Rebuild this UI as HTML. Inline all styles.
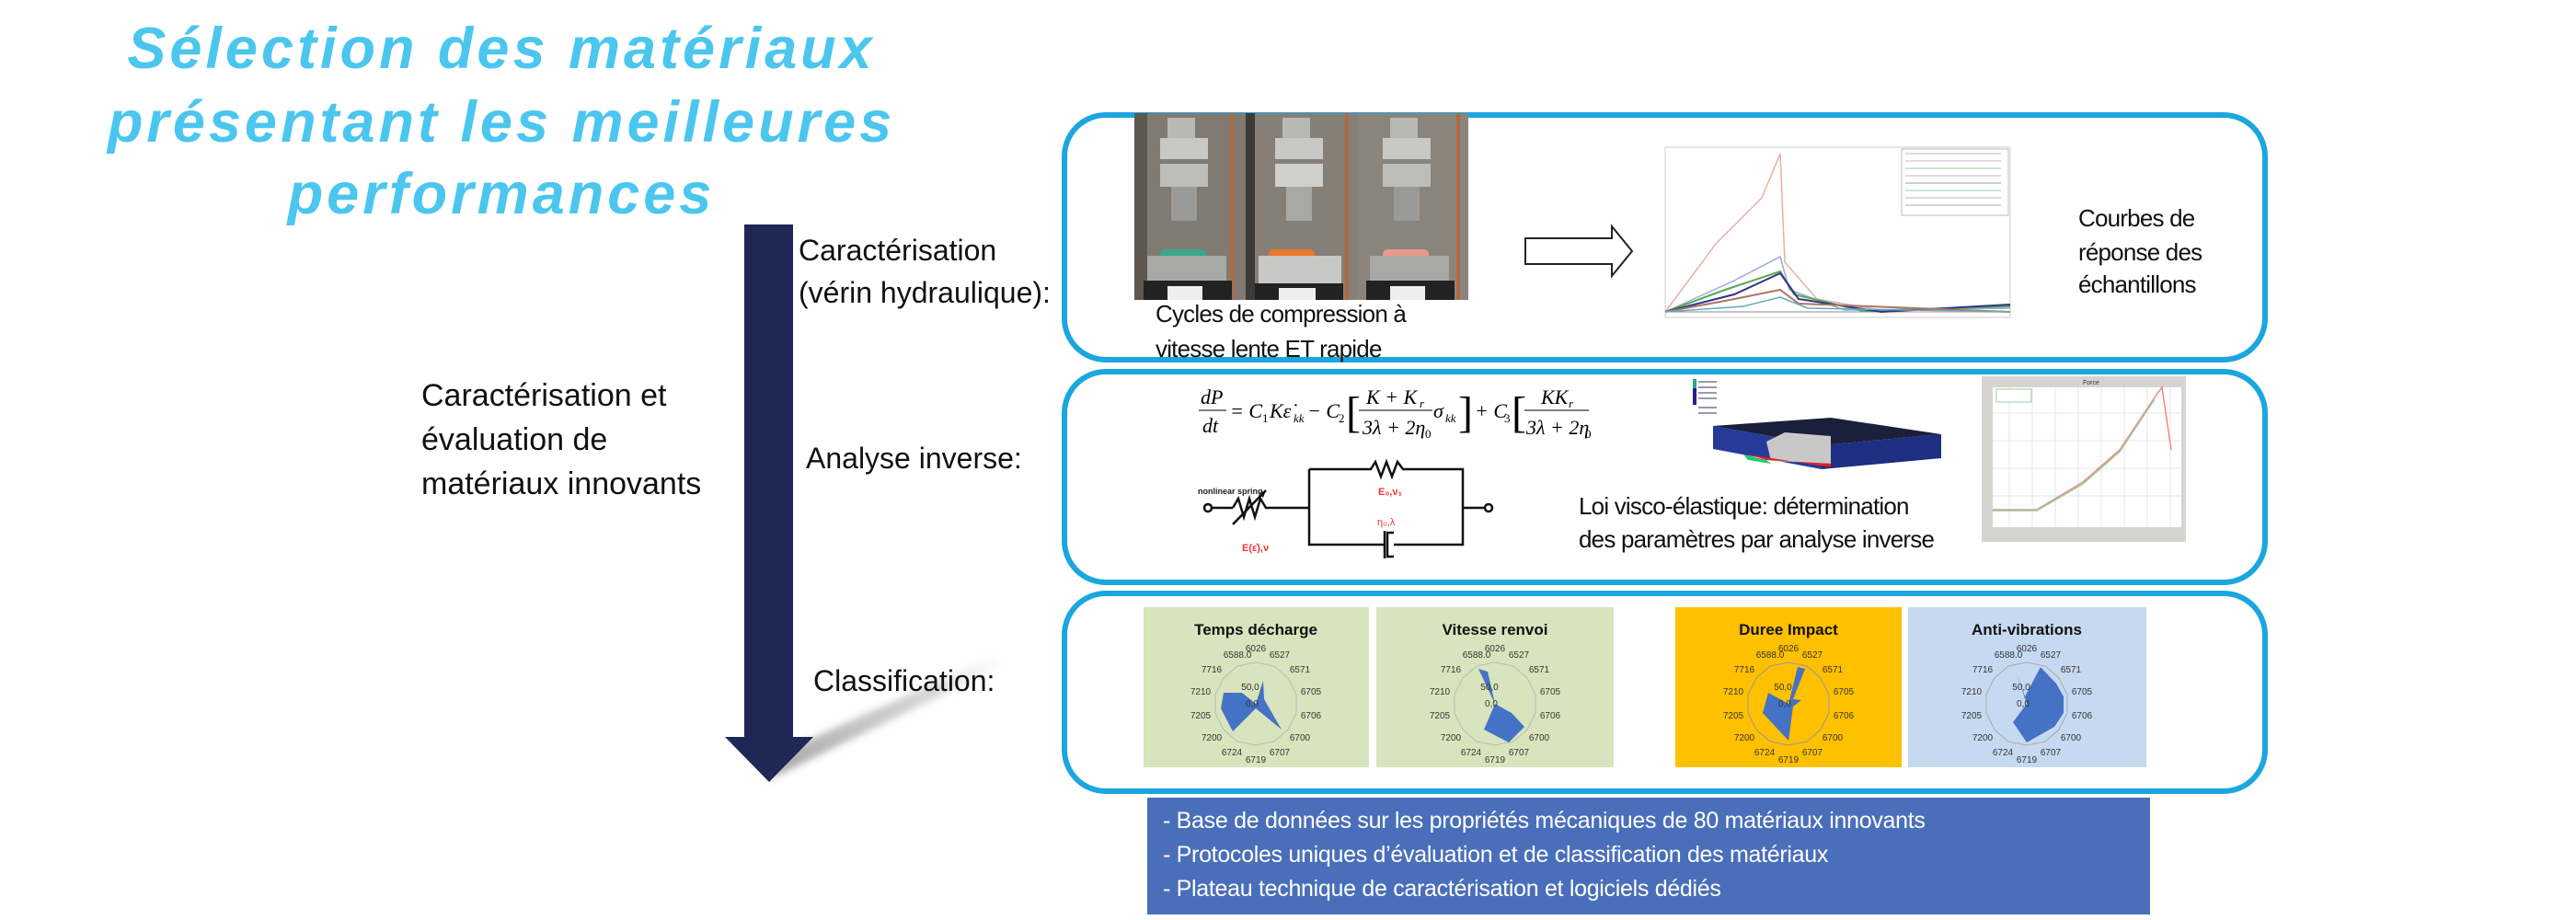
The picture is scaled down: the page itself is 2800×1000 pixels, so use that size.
<!DOCTYPE html>
<html><head><meta charset="utf-8">
<style>
html,body{margin:0;padding:0;background:#fff;}
body{width:2800px;height:1000px;position:relative;overflow:hidden;font-family:"Liberation Sans",sans-serif;}
.t{position:absolute;white-space:nowrap;color:#111;}
.title{position:absolute;left:0;width:1090px;text-align:center;color:#4BC6EE;font-weight:bold;font-style:italic;font-size:63px;letter-spacing:4px;white-space:nowrap;}
.panel{position:absolute;border:6px solid #1BA6E0;border-radius:48px;box-sizing:border-box;}
.lbl{font-size:32px;}
.cap{font-size:26px;letter-spacing:-0.8px;}
</style></head><body>

<div class="title" style="top:17px;">Sélection des matériaux</div>
<div class="title" style="top:97px;">présentant les meilleures</div>
<div class="title" style="top:175px;">performances</div>

<svg style="position:absolute;left:0;top:0" width="1160" height="900">
  <defs>
    <linearGradient id="sh" x1="0" y1="1" x2="1" y2="0"><stop offset="0" stop-color="#999" stop-opacity="0.9"/><stop offset="0.7" stop-color="#bbb" stop-opacity="0.6"/><stop offset="1" stop-color="#ddd" stop-opacity="0"/></linearGradient>
    <filter id="bl" x="-20%" y="-20%" width="140%" height="140%"><feGaussianBlur stdDeviation="4"/></filter>
  </defs>
  <polygon points="835,848 862,812 1082,712 1092,722" fill="url(#sh)" filter="url(#bl)"/>
  <rect x="809" y="244" width="53" height="560" fill="#1F2757"/>
  <polygon points="788,801 884,801 836,850" fill="#1F2757"/>
</svg>

<div class="t lbl" style="left:868px;top:254px;">Caractérisation</div>
<div class="t lbl" style="left:868px;top:300px;">(vérin hydraulique):</div>
<div class="t" style="left:458px;top:411px;font-size:34px;">Caractérisation et</div>
<div class="t" style="left:458px;top:459px;font-size:34px;">évaluation de</div>
<div class="t" style="left:458px;top:507px;font-size:34px;">matériaux innovants</div>
<div class="t lbl" style="left:876px;top:480px;">Analyse inverse:</div>
<div class="t lbl" style="left:884px;top:722px;">Classification:</div>

<div class="panel" style="left:1154px;top:122px;width:1311px;height:272px;"></div>
<div class="panel" style="left:1154px;top:401px;width:1311px;height:235px;"></div>
<div class="panel" style="left:1154px;top:642px;width:1311px;height:221px;"></div>

<!-- photo -->
<svg style="position:absolute;left:1233px;top:123px" width="363" height="203">
  <g>
    <rect width="121" height="203" fill="#807a72"/>
    <rect x="0" width="14" height="203" fill="#5e5850"/>
    <rect x="104" width="4" height="203" fill="#b06a40"/>
    <rect x="28" y="27" width="52" height="23" fill="#c8c8c6"/><rect x="36" y="5" width="30" height="22" fill="#b8b8b4"/>
    <rect x="28" y="55" width="52" height="25" fill="#bdbdbb"/>
    <rect x="40" y="80" width="28" height="37" fill="#9a9a98"/>
    <rect x="28" y="148" width="50" height="12" rx="5" fill="#3aa888"/>
    <rect x="14" y="155" width="86" height="27" fill="#a8a8a6"/>
    <rect x="10" y="182" width="96" height="21" fill="#222"/><rect x="36" y="188" width="38" height="15" fill="#eee"/>
  </g>
  <g transform="translate(121,0)">
    <rect width="121" height="203" fill="#857f77"/>
    <rect x="0" width="10" height="203" fill="#3e3a36"/>
    <rect x="108" width="4" height="203" fill="#b06a40"/>
    <rect x="32" y="27" width="52" height="23" fill="#c8c8c6"/><rect x="40" y="5" width="30" height="22" fill="#b8b8b4"/>
    <rect x="32" y="55" width="52" height="25" fill="#cfcfcd"/>
    <rect x="44" y="80" width="28" height="37" fill="#a8a8a6"/>
    <rect x="25" y="148" width="50" height="12" rx="5" fill="#e8772a"/>
    <rect x="14" y="155" width="90" height="30" fill="#c8c8c6"/>
    <rect x="10" y="185" width="96" height="18" fill="#222"/><rect x="36" y="190" width="40" height="13" fill="#eee"/>
  </g>
  <g transform="translate(242,0)">
    <rect width="121" height="203" fill="#8a847c"/>
    <rect x="108" width="4" height="203" fill="#b06a40"/>
    <rect x="28" y="27" width="52" height="23" fill="#c8c8c6"/><rect x="36" y="5" width="30" height="22" fill="#b8b8b4"/>
    <rect x="28" y="55" width="52" height="25" fill="#bdbdbb"/>
    <rect x="40" y="80" width="28" height="37" fill="#9a9a98"/>
    <rect x="28" y="148" width="50" height="12" rx="5" fill="#e89a8c"/>
    <rect x="14" y="155" width="86" height="27" fill="#a8a8a6"/>
    <rect x="10" y="182" width="96" height="21" fill="#222"/><rect x="36" y="188" width="38" height="15" fill="#eee"/>
  </g>
</svg>
<div class="t cap" style="left:1256px;top:326px;">Cycles de compression à</div>
<div class="t cap" style="left:1256px;top:364px;">vitesse lente ET rapide</div>

<!-- hollow arrow -->
<svg style="position:absolute;left:1655px;top:242px" width="125" height="62">
  <polygon points="3,17 97,17 97,4 119,31 97,58 97,45 3,45" fill="#fff" stroke="#222" stroke-width="2"/>
</svg>

<!-- response chart -->
<svg style="position:absolute;left:1805px;top:155px" width="385" height="195">
  <rect x="5" y="5" width="375" height="185" fill="#fff" stroke="#ccc"/>
  <line x1="5" y1="184" x2="380" y2="184" stroke="#888"/>
  <rect x="262" y="7" width="116" height="72" fill="#fff" stroke="#bbb"/>
  <g stroke-width="1">
    <line x1="266" y1="12" x2="370" y2="12" stroke="#bbb"/><line x1="266" y1="20" x2="370" y2="20" stroke="#bbb"/>
    <line x1="266" y1="28" x2="370" y2="28" stroke="#9c9"/><line x1="266" y1="36" x2="370" y2="36" stroke="#bbb"/>
    <line x1="266" y1="44" x2="370" y2="44" stroke="#999"/><line x1="266" y1="52" x2="370" y2="52" stroke="#9c9"/>
    <line x1="266" y1="60" x2="370" y2="60" stroke="#bbb"/><line x1="266" y1="68" x2="370" y2="68" stroke="#aac"/>
  </g>
  <polyline points="5,184 60,110 110,60 130,12 135,130 170,170 250,184 380,184" fill="none" stroke="#e8b0a8" stroke-width="1.5"/>
  <polyline points="5,184 80,150 130,124 140,160 200,182 380,180" fill="none" stroke="#9ad" stroke-width="1.5"/>
  <polyline points="5,184 70,160 130,140 145,165 220,183 380,178" fill="none" stroke="#5a5" stroke-width="2"/>
  <polyline points="5,184 80,165 130,142 150,170 240,184 380,176" fill="none" stroke="#338" stroke-width="2"/>
  <polyline points="5,184 70,172 130,160 150,175 380,184" fill="none" stroke="#a76" stroke-width="2"/>
  <polyline points="5,184 90,178 130,168 160,180 380,184" fill="none" stroke="#6ab" stroke-width="1.5"/>
</svg>
<div class="t cap" style="left:2259px;top:222px;">Courbes de</div>
<div class="t cap" style="left:2259px;top:259px;">réponse des</div>
<div class="t cap" style="left:2259px;top:294px;">échantillons</div>

<!-- equation -->
<svg style="position:absolute;left:1295px;top:412px" width="440" height="72" font-family="Liberation Serif, serif" font-style="italic" font-size="22">
  <text x="10" y="27">dP</text><line x1="8" y1="34" x2="38" y2="34" stroke="#000"/><text x="12" y="58">dt</text>
  <text x="42" y="42">= C</text><text x="77" y="47" font-size="13" font-style="normal">1</text><text x="85" y="42">Kε̇</text><text x="111" y="47" font-size="13">kk</text>
  <text x="126" y="42">− C</text><text x="160" y="47" font-size="13" font-style="normal">2</text>
  <text x="168" y="52" font-size="48" font-style="normal" font-weight="100">[</text>
  <text x="190" y="27">K + K</text><text x="248" y="31" font-size="13">r</text>
  <line x1="182" y1="34" x2="262" y2="34" stroke="#000"/><text x="186" y="60">3λ + 2η</text><text x="254" y="64" font-size="13" font-style="normal">0</text>
  <text x="263" y="42">σ</text><text x="276" y="47" font-size="13">kk</text>
  <text x="290" y="52" font-size="48" font-style="normal">]</text>
  <text x="308" y="42">+ C</text><text x="340" y="47" font-size="13" font-style="normal">3</text>
  <text x="348" y="52" font-size="48" font-style="normal">[</text>
  <text x="380" y="27">KK</text><text x="410" y="31" font-size="13">r</text>
  <line x1="362" y1="34" x2="432" y2="34" stroke="#000"/><text x="364" y="60">3λ + 2η</text><text x="428" y="64" font-size="13" font-style="normal">0</text>
</svg>

<!-- circuit -->
<svg style="position:absolute;left:1300px;top:495px" width="330" height="120" font-family="Liberation Sans, sans-serif">
  <g fill="none" stroke="#111" stroke-width="2.5">
    <circle cx="13" cy="57" r="4"/><line x1="17" y1="57" x2="40" y2="57"/>
    <polyline points="40,57 46,47 52,67 58,47 64,67 70,47 76,57 123,57"/>
    <line x1="40" y1="75" x2="76" y2="38"/>
    <polyline points="123,15 123,97 205,97"/>
    <polyline points="123,15 190,15 195,7 201,23 207,7 213,23 219,7 225,15 290,15 290,97 215,97"/>
    <line x1="290" y1="57" x2="314" y2="57"/><circle cx="318" cy="57" r="4"/>
    <line x1="205" y1="82" x2="205" y2="112"/><polyline points="215,84 208,84 208,110 215,110"/>
  </g>
  <polygon points="76,38 68,41 73,46" fill="#111"/>
  <text x="2" y="42" font-size="9" font-weight="bold" fill="#222">nonlinear spring</text>
  <text x="198" y="43" font-size="11" font-weight="bold" fill="#e33">E₀,ν₁</text>
  <text x="197" y="76" font-size="11" fill="#e33">η₀,λ</text>
  <text x="50" y="104" font-size="11" font-weight="bold" fill="#e33">E(ε̇),ν</text>
</svg>

<!-- FEM image -->
<svg style="position:absolute;left:1840px;top:408px" width="275" height="112">
  <rect x="0" y="4" width="4" height="28" fill="#2a8"/><rect x="0" y="14" width="4" height="18" fill="#228"/>
  <g fill="#99a"><rect x="6" y="6" width="20" height="2"/><rect x="6" y="12" width="20" height="2"/><rect x="6" y="18" width="20" height="2"/><rect x="6" y="24" width="20" height="2"/><rect x="6" y="34" width="20" height="2"/><rect x="6" y="40" width="20" height="2"/></g>
  <polygon points="22,55 150,46 270,64 140,76" fill="#1a1f3a"/>
  <polygon points="22,55 140,76 140,102 22,80" fill="#263a9a"/>
  <polygon points="140,76 270,64 270,90 140,102" fill="#1e2e80"/>
  <polygon points="80,72 100,62 150,66 150,96 85,93" fill="#c8c8c8"/>
  <polygon points="60,86 150,100 150,96 80,92" fill="#d22"/>
  <polygon points="55,86 80,92 85,96 60,92" fill="#2c6"/>
</svg>

<!-- graph -->
<svg style="position:absolute;left:2154px;top:409px" width="222" height="180">
  <rect width="222" height="180" fill="#d6d4d0"/>
  <rect x="12" y="12" width="205" height="152" fill="#fff"/>
  <g stroke="#e6e6e6"><line x1="30" y1="12" x2="30" y2="164"/><line x1="55" y1="12" x2="55" y2="164"/><line x1="80" y1="12" x2="80" y2="164"/><line x1="105" y1="12" x2="105" y2="164"/><line x1="130" y1="12" x2="130" y2="164"/><line x1="155" y1="12" x2="155" y2="164"/><line x1="180" y1="12" x2="180" y2="164"/><line x1="205" y1="12" x2="205" y2="164"/>
  <line x1="12" y1="40" x2="217" y2="40"/><line x1="12" y1="70" x2="217" y2="70"/><line x1="12" y1="100" x2="217" y2="100"/><line x1="12" y1="130" x2="217" y2="130"/></g>
  <rect x="16" y="14" width="38" height="14" fill="#fff" stroke="#9c9"/>
  <polyline points="12,145 60,145 110,115 150,80 190,20 196,12 206,80" fill="none" stroke="#e88" stroke-width="1.5"/>
  <polyline points="12,146 60,146 110,117 150,82 188,25" fill="none" stroke="#9c9" stroke-width="1.5"/>
  <text x="110" y="9" font-size="7" fill="#333">Force</text>
</svg>
<div class="t cap" style="left:1716px;top:535px;">Loi visco-élastique: détermination</div>
<div class="t cap" style="left:1716px;top:571px;">des paramètres par analyse inverse</div>

<!-- classification cards -->
<svg style="position:absolute;left:1240px;top:658px" width="1100" height="180" font-family="Liberation Sans, sans-serif">
  <rect x="3" y="2" width="245" height="174" fill="#D7E4BD"/>
  <rect x="256" y="2" width="258" height="174" fill="#D7E4BD"/>
  <rect x="581" y="2" width="246" height="174" fill="#FFC000"/>
  <rect x="834" y="2" width="259" height="174" fill="#C6D9F1"/>
  <g font-size="17" font-weight="bold" text-anchor="middle" fill="#111">
    <text x="125" y="32">Temps décharge</text><text x="385" y="32">Vitesse renvoi</text>
    <text x="704" y="32">Duree Impact</text><text x="963" y="32">Anti-vibrations</text>
  </g>
  <g font-size="10" fill="#333" text-anchor="middle" transform="translate(125,107)">
    <polygon points="0,-45 20,-41 35,-28 44,-10 44,10 35,28 20,41 0,45 -20,41 -35,28 -44,10 -44,-10 -35,-28 -20,-41" fill="none" stroke="#bbb"/>
    <polygon points="0,0 8,-25 9,-5 28,28 0,5 -25,30 -38,5 -35,-12 -15,-12" fill="#4472C4"/>
    <text x="0" y="-57">6026</text><text x="26" y="-50">6527</text><text x="48" y="-34">6571</text><text x="60" y="-10">6705</text><text x="60" y="16">6706</text><text x="48" y="40">6700</text><text x="26" y="56">6707</text><text x="0" y="64">6719</text><text x="-26" y="56">6724</text><text x="-48" y="40">7200</text><text x="-60" y="16">7205</text><text x="-60" y="-10">7210</text><text x="-48" y="-34">7716</text><text x="-20" y="-50">6588.0</text><text x="-6" y="-15">50,0</text><text x="-4" y="3">0,0</text>
  </g>
  <g font-size="10" fill="#333" text-anchor="middle" transform="translate(385,107)">
    <polygon points="0,-45 20,-41 35,-28 44,-10 44,10 35,28 20,41 0,45 -20,41 -35,28 -44,10 -44,-10 -35,-28 -20,-41" fill="none" stroke="#bbb"/>
    <polygon points="-18,-38 0,0 18,10 32,25 15,42 -12,28 0,0 -8,-35" fill="#4472C4"/>
    <text x="0" y="-57">6026</text><text x="26" y="-50">6527</text><text x="48" y="-34">6571</text><text x="60" y="-10">6705</text><text x="60" y="16">6706</text><text x="48" y="40">6700</text><text x="26" y="56">6707</text><text x="0" y="64">6719</text><text x="-26" y="56">6724</text><text x="-48" y="40">7200</text><text x="-60" y="16">7205</text><text x="-60" y="-10">7210</text><text x="-48" y="-34">7716</text><text x="-20" y="-50">6588.0</text><text x="-6" y="-15">50,0</text><text x="-4" y="3">0,0</text>
  </g>
  <g font-size="10" fill="#333" text-anchor="middle" transform="translate(704,107)">
    <polygon points="0,-45 20,-41 35,-28 44,-10 44,10 35,28 20,41 0,45 -20,41 -35,28 -44,10 -44,-10 -35,-28 -20,-41" fill="none" stroke="#999"/>
    <polygon points="0,0 10,-40 18,-38 5,-5 14,-4 5,3 0,40 -28,10 -22,-12" fill="#4472C4"/>
    <text x="0" y="-57">6026</text><text x="26" y="-50">6527</text><text x="48" y="-34">6571</text><text x="60" y="-10">6705</text><text x="60" y="16">6706</text><text x="48" y="40">6700</text><text x="26" y="56">6707</text><text x="0" y="64">6719</text><text x="-26" y="56">6724</text><text x="-48" y="40">7200</text><text x="-60" y="16">7205</text><text x="-60" y="-10">7210</text><text x="-48" y="-34">7716</text><text x="-20" y="-50">6588.0</text><text x="-6" y="-15">50,0</text><text x="-4" y="3">0,0</text>
  </g>
  <g font-size="10" fill="#333" text-anchor="middle" transform="translate(963,107)">
    <polygon points="0,-45 20,-41 35,-28 44,-10 44,10 35,28 20,41 0,45 -20,41 -35,28 -44,10 -44,-10 -35,-28 -20,-41" fill="none" stroke="#aaa"/>
    <polygon points="0,0 -12,-35 -2,-8 15,-40 32,-22 40,-8 40,10 30,25 0,42 -15,20" fill="#4472C4"/>
    <text x="0" y="-57">6026</text><text x="26" y="-50">6527</text><text x="48" y="-34">6571</text><text x="60" y="-10">6705</text><text x="60" y="16">6706</text><text x="48" y="40">6700</text><text x="26" y="56">6707</text><text x="0" y="64">6719</text><text x="-26" y="56">6724</text><text x="-48" y="40">7200</text><text x="-60" y="16">7205</text><text x="-60" y="-10">7210</text><text x="-48" y="-34">7716</text><text x="-20" y="-50">6588.0</text><text x="-6" y="-15">50,0</text><text x="-4" y="3">0,0</text>
  </g>
</svg>

<!-- bottom box -->
<div style="position:absolute;left:1247px;top:867px;width:1090px;height:127px;background:#4A6FBA;"></div>
<div class="t" style="left:1264px;top:878px;font-size:25px;color:#fff;letter-spacing:-0.3px;">- Base de données sur les propriétés mécaniques de 80 matériaux innovants</div>
<div class="t" style="left:1264px;top:915px;font-size:25px;color:#fff;letter-spacing:-0.3px;">- Protocoles uniques d’évaluation et de classification des matériaux</div>
<div class="t" style="left:1264px;top:952px;font-size:25px;color:#fff;letter-spacing:-0.3px;">- Plateau technique de caractérisation et logiciels dédiés</div>

</body></html>
